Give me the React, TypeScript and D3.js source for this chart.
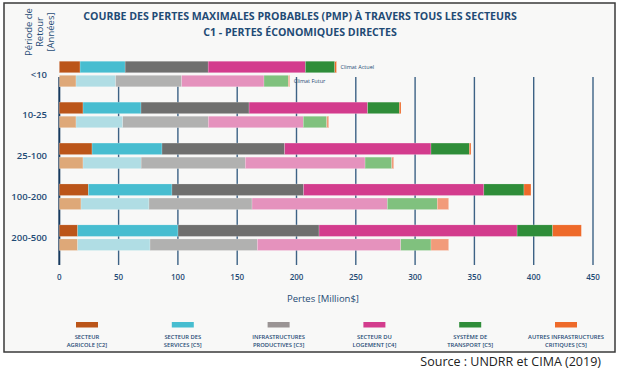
import { useEffect, useRef } from "react";
import * as d3 from "d3";

// return period categories
const periods = ["<10", "10-25", "25-100", "100-200", "200-500"];
const climates = ["actuel", "futur"];

const sectors = [
  "SECTEUR|AGRICOLE [C2]",
  "SECTEUR DES|SERVICES [C5]",
  "INFRASTRUCTURES|PRODUCTIVES [C3]",
  "SECTEUR DU|LOGEMENT [C4]",
  "SYSTÈME DE|TRANSPORT [C5]",
  "AUTRES INFRASTRUCTURES|CRITIQUES [C5]",
];

const colorsActuel = ["#bb5519", "#47bdd0", "#6f6f6e", "#d33c8d", "#2f8d39", "#ee6a2a"];
const colorsFutur = ["#dea878", "#b0dde4", "#b1b1b0", "#e592bd", "#80c17e", "#f29b7a"];
const legendColors = ["#bb5519", "#47bdd0", "#9a9494", "#d33c8d", "#2f8d39", "#ee6a2a"];

// losses in Million $ per sector, one row per return period
const lossesActuel = [
  [17.5, 38, 70, 82, 24.8, 1.4],
  [20, 48.9, 91.1, 100, 26.7, 1.4],
  [27.6, 59, 103.4, 123.4, 32.3, 1.4],
  [24.5, 70.5, 111, 152, 33.8, 5.9],
  [15.5, 84.6, 118.9, 167, 30, 24.2],
];
const lossesFutur = [
  [14.1, 33.4, 55.7, 69.4, 20.5, 1.2],
  [14.1, 39.4, 72.1, 80.1, 19.8, 1.7],
  [20, 49, 87.8, 101, 22.5, 1.7],
  [18.3, 57.3, 86.9, 114.1, 42.1, 9.6],
  [15.5, 61, 90.5, 120.9, 25.5, 14.9],
];

const xTicks = [0, 50, 100, 150, 200, 250, 300, 350, 400, 450];

const navy = "#1f4b75";
const font = "'Open Sans', sans-serif";

export default function App() {
  const ref = useRef<SVGSVGElement | null>(null);

  useEffect(() => {
    if (!ref.current) return;
    const svg = d3.select(ref.current);
    svg.selectAll("*").remove();

    const width = 624;
    const height = 371;

    svg.append("rect").attr("width", width).attr("height", height).attr("fill", "#ffffff");
    // frame
    svg.append("rect")
      .attr("x", 4).attr("y", 3)
      .attr("width", 611).attr("height", 349)
      .attr("fill", "#f8f8f7")
      .attr("stroke", "#3a3a3a")
      .attr("stroke-width", 1.5);

    const x = d3.scaleLinear().domain([0, 450]).range([59.3, 593]);
    const yPoint = d3.scalePoint().domain(periods).range([74, 237.7]);
    const yInner = d3.scaleBand().domain(climates).range([-12.8, 12.8]).paddingInner(0.18);

    // title
    svg.append("text")
      .attr("x", 300).attr("y", 19.5)
      .attr("text-anchor", "middle")
      .attr("fill", navy)
      .style("font-family", font)
      .style("font-weight", "700")
      .style("font-size", "10.6px")
      .text("COURBE DES PERTES MAXIMALES PROBABLES (PMP) À TRAVERS TOUS LES SECTEURS");
    svg.append("text")
      .attr("x", 300).attr("y", 36)
      .attr("text-anchor", "middle")
      .attr("fill", navy)
      .style("font-family", font)
      .style("font-weight", "700")
      .style("font-size", "10.6px")
      .text("C1 - PERTES ÉCONOMIQUES DIRECTES");

    // y title
    const yTitle = svg.append("text")
      .attr("transform", "translate(40, 32) rotate(-90)")
      .attr("text-anchor", "middle")
      .attr("fill", navy)
      .style("font-family", font)
      .style("font-size", "9.5px");
    ["Période de", "Retour", "[Années]"].forEach((t, i) => {
      yTitle.append("tspan").attr("x", 0).attr("y", (i - 1) * 11 + 3).text(t);
    });

    // vertical grid
    svg.append("g")
      .selectAll("line")
      .data(xTicks)
      .join("line")
      .attr("x1", d => x(d)).attr("x2", d => x(d))
      .attr("y1", 77).attr("y2", 265)
      .attr("stroke", d => (d === 0 ? "#173a5e" : "#3d6285"))
      .attr("stroke-width", d => (d === 0 ? 2 : 1.4));

    // tick labels
    svg.append("g")
      .selectAll("text")
      .data(xTicks)
      .join("text")
      .attr("x", d => x(d)).attr("y", 280)
      .attr("text-anchor", "middle")
      .attr("fill", navy)
      .style("font-family", font)
      .style("font-size", "8px")
      .style("font-weight", "600")
      .text(d => d);

    svg.append("text")
      .attr("x", 323).attr("y", 302)
      .attr("text-anchor", "middle")
      .attr("fill", navy)
      .style("font-family", font)
      .style("font-size", "9.5px")
      .text("Pertes [Million$]");

    // bars
    const stack = (vals: number[]) => {
      let acc = 0;
      return vals.map((v, i) => {
        const s = { x0: acc, x1: acc + v, i };
        acc += v;
        return s;
      });
    };

    periods.forEach((p, pi) => {
      const yc = yPoint(p) as number;
      [
        { c: "actuel", vals: lossesActuel[pi], cols: colorsActuel },
        { c: "futur", vals: lossesFutur[pi], cols: colorsFutur },
      ].forEach(row => {
        const y0 = yc + (yInner(row.c) as number);
        svg.append("g")
          .selectAll("rect")
          .data(stack(row.vals))
          .join("rect")
          .attr("x", d => x(d.x0))
          .attr("width", d => x(d.x1) - x(d.x0))
          .attr("y", y0)
          .attr("height", yInner.bandwidth())
          .attr("fill", d => row.cols[d.i])
          .attr("stroke", "#ffffff")
          .attr("stroke-opacity", 0.5)
          .attr("stroke-width", 0.4);
      });

      svg.append("text")
        .attr("x", 47).attr("y", yc + 3.5)
        .attr("text-anchor", "end")
        .attr("fill", navy)
        .style("font-family", font)
        .style("font-size", "9.5px")
        .style("font-weight", "600")
        .text(p);
    });

    // Climat labels next to first group
    const firstActEnd = x(d3.sum(lossesActuel[0]));
    const firstFutEnd = x(d3.sum(lossesFutur[0]));
    const y0c = yPoint(periods[0]) as number;
    svg.append("text")
      .attr("x", firstActEnd + 4)
      .attr("y", y0c + (yInner("actuel") as number) + yInner.bandwidth() / 2 + 2)
      .attr("fill", navy)
      .style("font-family", font)
      .style("font-size", "5.5px")
      .text("Climat Actuel");
    svg.append("text")
      .attr("x", firstFutEnd + 4)
      .attr("y", y0c + (yInner("futur") as number) + yInner.bandwidth() / 2 + 2)
      .attr("fill", navy)
      .style("font-family", font)
      .style("font-size", "5.5px")
      .text("Climat Futur");

    // legend
    const legendX = d3.scalePoint().domain(sectors).range([87, 566]);
    const lg = svg.append("g")
      .selectAll("g")
      .data(sectors)
      .join("g")
      .attr("transform", d => `translate(${legendX(d)}, 0)`);
    lg.append("rect")
      .attr("x", -11).attr("y", 322)
      .attr("width", 22).attr("height", 5.5)
      .attr("fill", (d, i) => legendColors[i]);
    lg.each(function (d) {
      const t = d3.select(this).append("text")
        .attr("text-anchor", "middle")
        .attr("fill", navy)
        .style("font-family", font)
        .style("font-size", "5.8px")
        .style("font-weight", "600");
      d.split("|").forEach((line, i) => {
        t.append("tspan").attr("x", 0).attr("y", 339 + i * 7.5).text(line);
      });
    });

    svg.append("text")
      .attr("x", 601).attr("y", 366)
      .attr("text-anchor", "end")
      .attr("fill", "#222222")
      .style("font-family", font)
      .style("font-size", "12.5px")
      .text("Source : UNDRR et CIMA (2019)");
  }, []);

  return (
    <svg
      ref={ref}
      width={624}
      height={371}
      style={{ position: "absolute", left: 0, top: 0 }}
    />
  );
}
